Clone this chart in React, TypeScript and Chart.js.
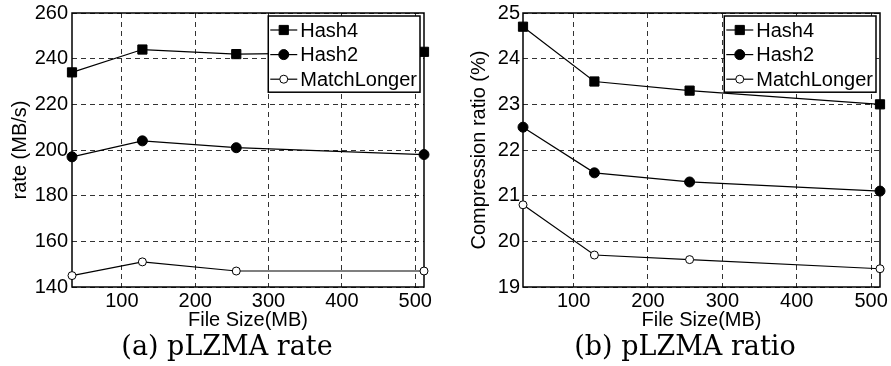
import React, { useEffect, useRef } from 'react';
import { Chart, registerables } from 'chart.js';

Chart.register(...registerables);

// ---- data ----
const fileSizes = [32, 128, 256, 512];
const xTicks = [100, 200, 300, 400, 500];
const seriesNames = ['Hash4', 'Hash2', 'MatchLonger'];

const rateHash4 = [234, 244, 242, 243];
const rateHash2 = [197, 204, 201, 198];
const rateMatchLonger = [145, 151, 147, 147];
const rateTicks = [140, 160, 180, 200, 220, 240, 260];

const ratioHash4 = [24.7, 23.5, 23.3, 23.0];
const ratioHash2 = [22.5, 21.5, 21.3, 21.1];
const ratioMatchLonger = [20.8, 19.7, 19.6, 19.4];
const ratioTicks = [19, 20, 21, 22, 23, 24, 25];

const xTitle = 'File Size(MB)';
const rateTitle = 'rate (MB/s)';
const ratioTitle = 'Compression ratio (%)';
const captionA = '(a) pLZMA rate';
const captionB = '(b) pLZMA ratio';

// ---- styles ----
const SANS = '"Liberation Sans", Arial, sans-serif';
const SERIF = '"DejaVu Serif", serif';
const seriesStyles = [
  { pointStyle: 'rect', pointRadius: 6.5, fill: '#000' },
  { pointStyle: 'circle', pointRadius: 5, fill: '#000' },
  { pointStyle: 'circle', pointRadius: 4, fill: '#fff' },
];

const framePlugin = {
  id: 'frame',
  beforeDatasetsDraw(chart: any) {
    const { ctx, chartArea: a } = chart;
    ctx.save();
    ctx.setLineDash([]);
    ctx.strokeStyle = '#000';
    ctx.lineWidth = 1.5;
    ctx.strokeRect(a.left, a.top, a.right - a.left, a.bottom - a.top);
    ctx.restore();
  },
};

function drawMarker(ctx: any, style: string, r: number, x: number, y: number, fill: string) {
  ctx.beginPath();
  if (style === 'rect') {
    const s = r * Math.SQRT1_2;
    ctx.rect(x - s, y - s, 2 * s, 2 * s);
  } else {
    ctx.arc(x, y, r, 0, Math.PI * 2);
  }
  ctx.fillStyle = fill;
  ctx.fill();
  ctx.lineWidth = 1;
  ctx.strokeStyle = '#000';
  ctx.stroke();
}

const boxLegendPlugin = {
  id: 'boxLegend',
  afterDatasetsDraw(chart: any) {
    const { ctx, chartArea: a } = chart;
    const ds = chart.data.datasets;
    ctx.save();
    ctx.font = `20px ${SANS}`;
    let maxW = 0;
    ds.forEach((d: any) => {
      maxW = Math.max(maxW, ctx.measureText(d.label).width);
    });
    const padL = 2;
    const lineLen = 27;
    const gap = 3;
    const rowH = 24.6;
    const w = padL + lineLen + gap + maxW + 3;
    const h = 14 + rowH * (ds.length - 1) + 13;
    const left = a.right - 4 - w;
    const top = a.top + 3;
    ctx.setLineDash([]);
    ctx.fillStyle = '#fff';
    ctx.fillRect(left, top, w, h);
    ctx.strokeStyle = '#000';
    ctx.lineWidth = 1.5;
    ctx.strokeRect(left, top, w, h);
    ds.forEach((d: any, i: number) => {
      const cy = top + 14 + i * rowH;
      ctx.beginPath();
      ctx.strokeStyle = '#000';
      ctx.lineWidth = 1.2;
      ctx.moveTo(left + padL, cy);
      ctx.lineTo(left + padL + lineLen, cy);
      ctx.stroke();
      drawMarker(ctx, d.pointStyle, d.pointRadius, left + padL + lineLen / 2, cy, d.pointBackgroundColor);
      ctx.fillStyle = '#000';
      ctx.textBaseline = 'middle';
      ctx.textAlign = 'left';
      ctx.fillText(d.label, left + padL + lineLen + gap, cy + 1);
    });
    ctx.restore();
  },
};

function makeConfig(opts: {
  series: number[][];
  yTicks: number[];
  yTitle: string;
  yWidth: number;
  yTitlePad: number;
  yTickPad: number;
  padRight: number;
}): any {
  const { series, yTicks } = opts;
  const datasets = series.map((vals, i) => ({
    label: seriesNames[i],
    data: fileSizes.map((x, j) => ({ x, y: vals[j] })),
    borderColor: '#000',
    borderWidth: 1.2,
    backgroundColor: seriesStyles[i].fill,
    pointStyle: seriesStyles[i].pointStyle,
    pointRadius: seriesStyles[i].pointRadius,
    pointBackgroundColor: seriesStyles[i].fill,
    pointBorderColor: '#000',
    pointBorderWidth: 1,
    fill: false,
    tension: 0,
    clip: false,
  }));
  const gridStyle = { color: '#333', lineWidth: 1, drawTicks: false };
  const tickFont = { family: SANS, size: 20, lineHeight: 1.2 };
  return {
    type: 'line',
    data: { datasets },
    options: {
      animation: false,
      responsive: false,
      maintainAspectRatio: false,
      layout: { padding: { left: 0, top: 33, right: opts.padRight, bottom: 0 } },
      plugins: { legend: { display: false }, tooltip: { enabled: false }, title: { display: false } },
      scales: {
        x: {
          type: 'linear',
          min: fileSizes[0],
          max: fileSizes[fileSizes.length - 1],
          afterBuildTicks: (s: any) => {
            s.ticks = xTicks.map((v) => ({ value: v }));
          },
          afterFit: (s: any) => {
            s.height = 48;
          },
          ticks: { font: tickFont, color: '#000', padding: 2, maxRotation: 0, autoSkip: false },
          grid: gridStyle,
          border: { display: false, dash: [5, 4] },
          title: {
            display: true,
            text: xTitle,
            color: '#000',
            font: { family: SANS, size: 20, lineHeight: 1.2 },
            padding: { top: 0, bottom: 3 },
          },
        },
        y: {
          type: 'linear',
          min: yTicks[0],
          max: yTicks[yTicks.length - 1],
          afterBuildTicks: (s: any) => {
            s.ticks = yTicks.map((v) => ({ value: v }));
          },
          afterFit: (s: any) => {
            s.width = opts.yWidth;
          },
          ticks: { font: tickFont, color: '#000', padding: opts.yTickPad, autoSkip: false },
          grid: gridStyle,
          border: { display: false, dash: [5, 4] },
          title: {
            display: true,
            text: opts.yTitle,
            color: '#000',
            font: { family: SANS, size: 20, lineHeight: 1.2 },
            padding: { top: opts.yTitlePad, bottom: 0 },
          },
        },
      },
    },
    plugins: [framePlugin, boxLegendPlugin],
  };
}

function LineChart(props: { left: number; width: number; config: any }) {
  const ref = useRef<HTMLCanvasElement | null>(null);
  useEffect(() => {
    if (!ref.current) return;
    const chart = new Chart(ref.current, props.config);
    return () => chart.destroy();
  }, []);
  return (
    <canvas
      ref={ref}
      width={props.width}
      height={355}
      style={{ position: 'absolute', left: props.left, top: -20, width: props.width, height: 355, display: 'block' }}
    />
  );
}

const captionStyle: React.CSSProperties = {
  position: 'absolute',
  top: 332,
  fontFamily: SERIF,
  fontSize: 27,
  lineHeight: '27px',
  textAlign: 'center',
  color: '#000',
  whiteSpace: 'nowrap',
};

export default function App() {
  const rateConfig = makeConfig({
    series: [rateHash4, rateHash2, rateMatchLonger],
    yTicks: rateTicks,
    yTitle: rateTitle,
    yWidth: 72,
    yTitlePad: 8,
    yTickPad: 4,
    padRight: 26,
  });
  const ratioConfig = makeConfig({
    series: [ratioHash4, ratioHash2, ratioMatchLonger],
    yTicks: ratioTicks,
    yTitle: ratioTitle,
    yWidth: 73,
    yTitlePad: 17,
    yTickPad: 3,
    padRight: 11,
  });
  return (
    <div
      style={{
        position: 'absolute',
        left: 0,
        top: 0,
        width: 891,
        height: 366,
        overflow: 'hidden',
        background: '#fff',
      }}
    >
      <LineChart left={0} width={450} config={rateConfig} />
      <LineChart left={450} width={441} config={ratioConfig} />
      <div style={{ ...captionStyle, left: 0, width: 454 }}>{captionA}</div>
      <div style={{ ...captionStyle, left: 479, width: 412 }}>{captionB}</div>
    </div>
  );
}
